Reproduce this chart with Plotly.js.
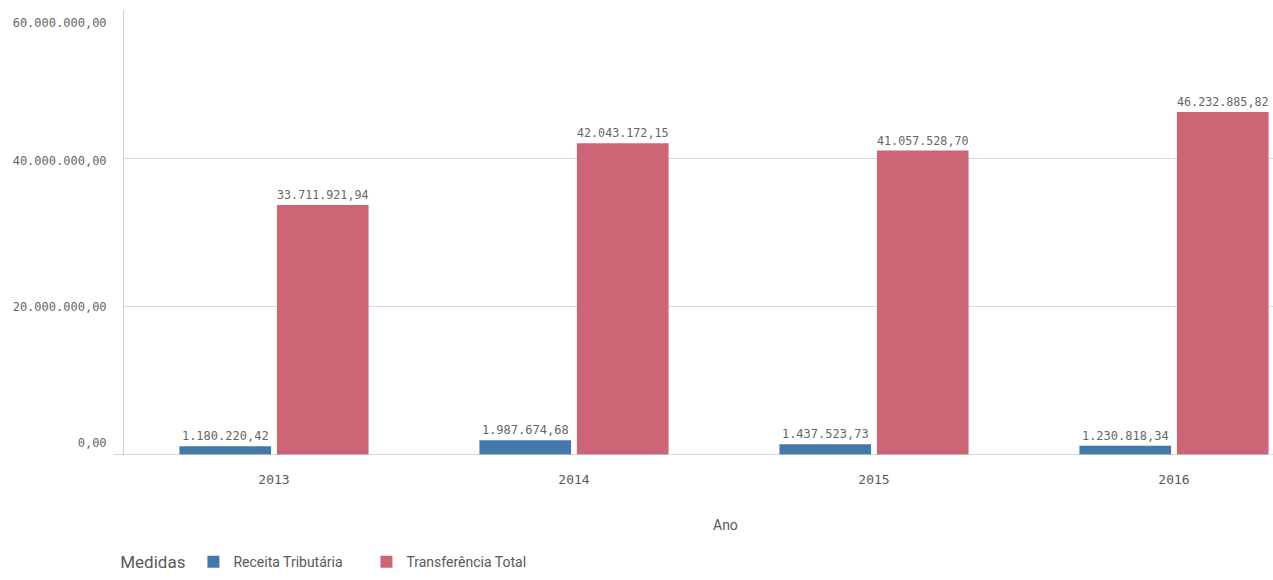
<!DOCTYPE html>
<html><head><meta charset="utf-8">
<script src="https://cdn.plot.ly/plotly-3.0.1.min.js"></script>
<style>html,body{margin:0;padding:0;background:#fff}#chart{width:1273px;height:580px}</style>
</head><body><div id="chart"></div>
<script>
const anos = ['2013', '2014', '2015', '2016'];
const receitaTributaria = [1180220.42, 1987674.68, 1437523.73, 1230818.34];
const transferenciaTotal = [33711921.94, 42043172.15, 41057528.70, 46232885.82];
const seriesNames = ['Receita Tributária', 'Transferência Total'];
const gridValues = [20000000, 40000000, 60000000];
const yTickLabels = ['0,00', '20.000.000,00', '40.000.000,00', '60.000.000,00'];
const yLabelValues = [1600000, 20000000, 39700000, 58300000];

const numFont = {family: 'DejaVu Sans Mono, monospace', size: 12, color: '#666666'};
const traces = [
  {type: 'bar', name: seriesNames[0], x: anos, y: receitaTributaria, marker: {color: '#4477aa'},
   texttemplate: '%{y:,.2f}', textposition: 'outside', textfont: numFont, cliponaxis: false, hoverinfo: 'skip'},
  {type: 'bar', name: seriesNames[1], x: anos, y: transferenciaTotal, marker: {color: '#cc6677'},
   texttemplate: '%{y:,.2f}', textposition: 'outside', textfont: numFont, cliponaxis: false, hoverinfo: 'skip'}
];
const layout = {
  width: 1273, height: 580,
  margin: {l: 124, r: 0, t: 10, b: 125},
  separators: ',.',
  barmode: 'group', bargap: 0.35, bargroupgap: 0.06,
  plot_bgcolor: '#fff', paper_bgcolor: '#fff',
  showlegend: true,
  xaxis: {type: 'category', range: [-0.5, 3.33], showline: false, showgrid: false, zeroline: false, ticks: '',
          tickfont: {family: 'DejaVu Sans Mono, monospace', size: 13, color: '#595959'}, ticklabelstandoff: 15},
  yaxis: {range: [0, 60000000], tickmode: 'array', tickvals: yLabelValues, ticktext: yTickLabels, showgrid: false,
          minor: {tickmode: 'array', tickvals: gridValues, showgrid: true, gridcolor: '#d9d9d9', gridwidth: 1, ticks: ''},
          zeroline: false, showline: true, linecolor: '#d0d0d0', linewidth: 1, ticks: '',
          tickfont: numFont, ticklabelstandoff: 14},
  shapes: [{type: 'line', xref: 'paper', yref: 'y', x0: -10/1149, x1: 1, y0: 0, y1: 0, line: {color: '#c8c8c8', width: 1.5}}],
  annotations: [{text: 'Ano', xref: 'paper', yref: 'paper', x: 601/1149, y: -70/445, xanchor: 'center', yanchor: 'middle',
                 showarrow: false, font: {family: 'Roboto, sans-serif', size: 14, color: '#595959'}}],
  legend: {orientation: 'h', x: -0.005, xanchor: 'left', y: -0.205, yanchor: 'top', entrywidth: 128, valign: 'bottom',
           title: {text: 'Medidas', side: 'left', font: {family: 'Roboto, sans-serif', size: 17, color: '#595959'}},
           font: {family: 'Roboto, sans-serif', size: 14, color: '#595959'}, itemwidth: 30, tracegroupgap: 0}
};
Plotly.newPlot('chart', traces, layout, {displayModeBar: false, staticPlot: true});
</script></body></html>
